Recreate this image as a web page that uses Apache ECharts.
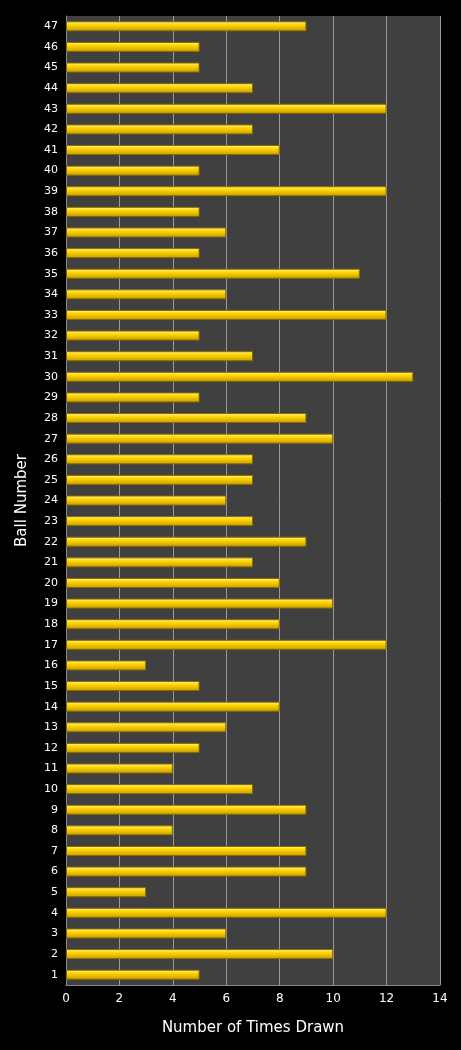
<!DOCTYPE html>
<html><head><meta charset="utf-8">
<script src="https://cdn.jsdelivr.net/npm/echarts@6/dist/echarts.min.js"></script>
<style>html,body{margin:0;background:#000}#c{width:461px;height:1050px}</style>
</head><body><div id="c"></div>
<script>
const categories = Array.from({length:47},(_,i)=>String(i+1));
const timesDrawn = [5,10,6,12,3,9,9,4,9,7,4,5,6,8,5,3,12,8,10,8,7,9,7,6,7,7,10,9,5,13,7,5,12,6,11,5,6,5,12,5,8,7,12,7,5,5,9];
const chart = echarts.init(document.getElementById('c'));
chart.setOption({
  backgroundColor:'#000',
  animation:false,
  grid:{left:66,right:21,top:16,bottom:65,show:true,backgroundColor:'#404040',borderWidth:0},
  xAxis:{type:'value',min:0,max:14,interval:2,
    name:'Number of Times Drawn',nameLocation:'middle',nameGap:36,
    nameTextStyle:{color:'#fff',fontSize:15,fontFamily:'DejaVu Sans'},
    axisLabel:{color:'#fff',fontSize:12,fontFamily:'DejaVu Sans'},
    axisLine:{show:true,lineStyle:{color:'#888'}},axisTick:{show:false},
    splitLine:{lineStyle:{color:'#9a9a9a',width:1}}},
  yAxis:{type:'category',data:categories,
    name:'Ball Number',nameLocation:'middle',nameGap:36,
    nameTextStyle:{color:'#fff',fontSize:15,fontFamily:'DejaVu Sans'},
    axisLabel:{color:'#fff',fontSize:11,fontFamily:'DejaVu Sans',interval:0},
    axisLine:{lineStyle:{color:'#888'}},axisTick:{show:false}},
  series:[{type:'bar',data:timesDrawn,barWidth:10,
    itemStyle:{borderColor:'#8a6d00',borderWidth:1,
      color:new echarts.graphic.LinearGradient(0,0,0,1,[
        {offset:0,color:'#fff3a0'},{offset:0.35,color:'#ffd700'},{offset:1,color:'#c89b00'}])}}]
});
</script></body></html>
